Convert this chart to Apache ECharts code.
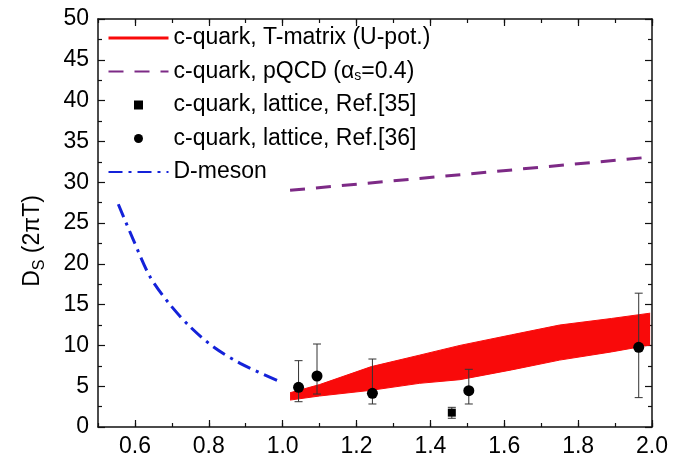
<!DOCTYPE html>
<html>
<head>
<meta charset="utf-8">
<script src="https://cdn.jsdelivr.net/npm/echarts@6/dist/echarts.min.js"></script>
<style>
  html, body { margin: 0; padding: 0; background: #fff; }
  #chart { width: 684px; height: 459px; }
</style>
</head>
<body>
<div id="chart"></div>
<script>
// tick labels on the x axis (major ticks)
const xMajorTicks = [0.6, 0.8, 1.0, 1.2, 1.4, 1.6, 1.8, 2.0];

// T-matrix band (upper / lower edge)
const tmX    = [1.02, 1.1, 1.24, 1.37, 1.48, 1.62, 1.75, 1.89, 1.995];
const tmLow  = [3.3, 3.8, 4.5, 5.35, 5.8, 7.0, 8.2, 9.2, 10.05];
const tmHigh = [4.2, 5.2, 7.4, 8.8, 10.0, 11.3, 12.5, 13.3, 13.95];

// pQCD
const pqcdX = [1.02, 1.5, 2.0];
const pqcdY = [29.0, 31.0, 33.1];

// lattice Ref.[35]
const ref35X  = [1.458];
const ref35Y  = [1.76];
const ref35Lo = [1.07];
const ref35Hi = [2.41];

// lattice Ref.[36]
const ref36X  = [1.043, 1.093, 1.243, 1.504, 1.964];
const ref36Y  = [4.86, 6.25, 4.13, 4.45, 9.77];
const ref36Lo = [3.1, 4.04, 2.82, 2.82, 3.6];
const ref36Hi = [8.13, 10.17, 8.33, 7.07, 16.4];

// D-meson
const dmesX = [0.555, 0.596, 0.641, 0.695, 0.749, 0.812, 0.885, 0.993];
const dmesY = [27.3, 22.9, 18.4, 15.0, 12.3, 9.84, 7.8, 5.55];

const FONT = 'Liberation Sans';
const RED = '#f90a0a';
const PURPLE = '#7d2a86';
const BLUE = '#1422d9';
const AXIS = '#111';

const TM = 'c-quark, T-matrix (U-pot.)';
const PQCD = 'c-quark, pQCD (αs=0.4)';
const R35 = 'c-quark, lattice, Ref.[35]';
const R36 = 'c-quark, lattice, Ref.[36]';
const DMES = 'D-meson';

const zip = (xs, ys) => xs.map((x, i) => [x, ys[i]]);

function errorBars(params, api) {
  const x = api.value(0);
  const lo = api.coord([x, api.value(1)]);
  const hi = api.coord([x, api.value(2)]);
  const w = 4;
  const style = { stroke: '#333', lineWidth: 1 };
  return {
    type: 'group',
    children: [
      { type: 'line', shape: { x1: lo[0], y1: lo[1], x2: hi[0], y2: hi[1] }, style },
      { type: 'line', shape: { x1: lo[0] - w, y1: lo[1], x2: lo[0] + w, y2: lo[1] }, style },
      { type: 'line', shape: { x1: hi[0] - w, y1: hi[1], x2: hi[0] + w, y2: hi[1] }, style }
    ]
  };
}

function bandPolygon(params, api) {
  if (params.dataIndex !== 0) return;
  const top = tmX.map((x, i) => api.coord([x, tmHigh[i]]));
  const bottom = tmX.map((x, i) => api.coord([x, tmLow[i]])).reverse();
  return { type: 'polygon', shape: { points: top.concat(bottom) }, style: { fill: RED } };
}

const xBase = { type: 'value', min: 0.5, max: 2.0, splitLine: { show: false } };
const yBase = { type: 'value', min: 0, max: 50, interval: 5, splitLine: { show: false } };

// legend line icons: hide the dot that line series put in the middle
const noDot = { color: 'rgba(0,0,0,0)', borderWidth: 0 };

const chart = echarts.init(document.getElementById('chart'));
chart.setOption({
  animation: false,
  grid: { left: 98, right: 32, top: 19, bottom: 32 },
  xAxis: [
    Object.assign({}, xBase, {
      position: 'bottom', interval: 0.1,
      axisLine: { lineStyle: { color: AXIS, width: 1.5 } },
      axisTick: { inside: true, length: 4, lineStyle: { color: AXIS, width: 1.2 } },
      axisLabel: {
        formatter: v => (Math.round(v * 10) % 2 === 0 ? v.toFixed(1) : ''),
        fontSize: 23, color: '#000', margin: 8, fontFamily: FONT
      }
    }),
    Object.assign({}, xBase, {
      position: 'bottom',
      axisLine: { show: false },
      axisTick: { inside: true, length: 7, customValues: xMajorTicks, lineStyle: { color: AXIS, width: 1.2 } },
      axisLabel: { show: false }
    }),
    Object.assign({}, xBase, {
      position: 'top', interval: 0.1,
      axisLine: { lineStyle: { color: AXIS, width: 1.5 } },
      axisTick: { inside: true, length: 4, lineStyle: { color: AXIS, width: 1.2 } },
      axisLabel: { show: false }
    }),
    Object.assign({}, xBase, {
      position: 'top',
      axisLine: { show: false },
      axisTick: { inside: true, length: 7, customValues: xMajorTicks, lineStyle: { color: AXIS, width: 1.2 } },
      axisLabel: { show: false }
    })
  ],
  yAxis: [
    Object.assign({}, yBase, {
      position: 'left',
      name: '{d|D}{sub|S}{d| (2πT)}',
      nameLocation: 'middle', nameRotate: 90, nameGap: 50,
      nameTextStyle: {
        padding: [0, 36, 0, 0],
        rich: {
          d: { fontSize: 23, lineHeight: 30, fontFamily: FONT, color: '#000' },
          sub: { fontSize: 16, lineHeight: 12, verticalAlign: 'bottom', fontFamily: FONT, color: '#000' }
        }
      },
      axisLine: { lineStyle: { color: AXIS, width: 1.5 } },
      axisTick: { inside: true, length: 7, lineStyle: { color: AXIS, width: 1.2 } },
      minorTick: { show: true, splitNumber: 2, length: 4, lineStyle: { color: AXIS, width: 1.2 } },
      axisLabel: { fontSize: 23, color: '#000', margin: 9, fontFamily: FONT }
    }),
    Object.assign({}, yBase, {
      position: 'right',
      axisLine: { lineStyle: { color: AXIS, width: 1.5 } },
      axisTick: { inside: true, length: 7, lineStyle: { color: AXIS, width: 1.2 } },
      minorTick: { show: true, splitNumber: 2, length: 4, lineStyle: { color: AXIS, width: 1.2 } },
      axisLabel: { show: false }
    })
  ],
  legend: {
    orient: 'vertical', left: 107, top: 26, padding: 0,
    itemWidth: 60, itemHeight: 9, itemGap: 9.5,
    selectedMode: false,
    textStyle: {
      fontSize: 23, lineHeight: 24, color: '#000', fontFamily: FONT,
      rich: { sub: { fontSize: 14, lineHeight: 4, verticalAlign: 'bottom', fontFamily: FONT, color: '#000' } }
    },
    formatter: name => (name === PQCD ? 'c-quark, pQCD (α{sub|s}=0.4)' : name),
    data: [
      { name: TM, lineStyle: { width: 3 }, itemStyle: noDot },
      { name: PQCD, itemStyle: noDot },
      { name: R35, icon: 'path://M0,0L10,0L10,10L0,10Z' },
      { name: R36, icon: 'circle' },
      { name: DMES, itemStyle: noDot }
    ]
  },
  series: [
    {
      name: 'tm-band', type: 'custom', renderItem: bandPolygon,
      data: [[tmX[0], tmLow[0]]], z: 2, silent: true
    },
    {
      name: TM, type: 'line', data: zip(tmX, tmHigh), symbol: 'none',
      lineStyle: { color: RED, width: 1 }, itemStyle: { color: RED }, z: 2
    },
    {
      name: 'tm-low', type: 'line', data: zip(tmX, tmLow), symbol: 'none',
      lineStyle: { color: RED, width: 1 }, z: 2
    },
    {
      name: PQCD, type: 'line', data: zip(pqcdX, pqcdY), symbol: 'none',
      lineStyle: { color: PURPLE, width: 3, type: [15, 11] }, itemStyle: { color: PURPLE }
    },
    {
      name: DMES, type: 'line', data: zip(dmesX, dmesY), symbol: 'none', smooth: 0.3,
      lineStyle: { color: BLUE, width: 3, type: [14, 6, 3, 6] }, itemStyle: { color: BLUE }
    },
    {
      name: 'err35', type: 'custom', renderItem: errorBars, z: 3,
      encode: { x: 0, y: [1, 2] },
      data: ref35X.map((x, i) => [x, ref35Lo[i], ref35Hi[i]])
    },
    {
      name: 'err36', type: 'custom', renderItem: errorBars, z: 3,
      encode: { x: 0, y: [1, 2] },
      data: ref36X.map((x, i) => [x, ref36Lo[i], ref36Hi[i]])
    },
    {
      name: R35, type: 'scatter', data: zip(ref35X, ref35Y), symbol: 'square', symbolSize: 8,
      itemStyle: { color: '#000', opacity: 1 }, z: 4
    },
    {
      name: R36, type: 'scatter', data: zip(ref36X, ref36Y), symbol: 'circle', symbolSize: 11,
      itemStyle: { color: '#000', opacity: 1 }, z: 4
    }
  ]
});
</script>
</body>
</html>
